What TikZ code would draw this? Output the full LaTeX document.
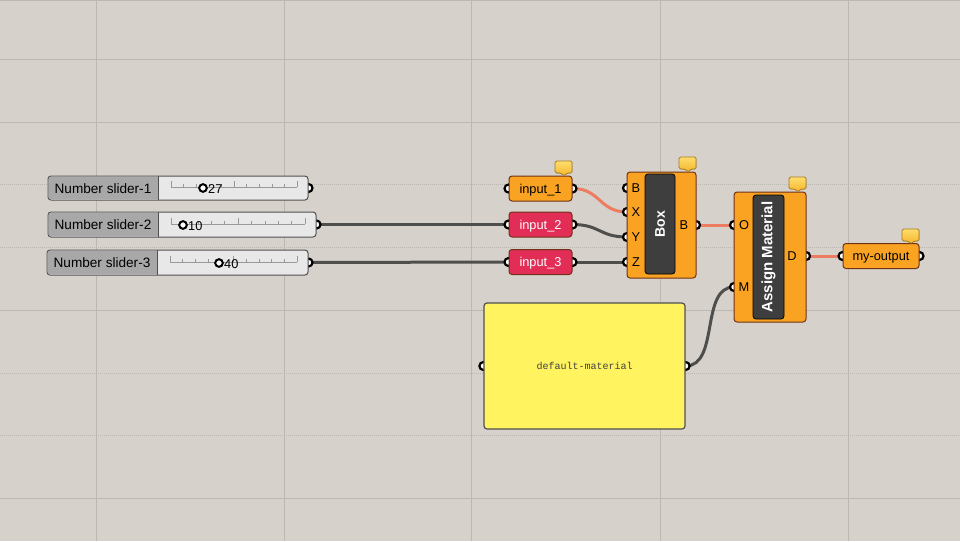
\documentclass[tikz,border=0pt]{standalone}
\usepackage{fontspec}
\setmainfont{Liberation Sans}
\newfontfamily\panelfont{Liberation Mono}
\pgfdeclarelayer{background}
\pgfsetlayers{background,main}
\usetikzlibrary{calc}
\definecolor{canvas}{RGB}{214,210,203}
\definecolor{gridline}{RGB}{188,184,177}
\definecolor{ghorange}{RGB}{250,163,34}
\definecolor{ghbrown}{RGB}{112,50,22}
\definecolor{ghpink}{RGB}{226,46,86}
\definecolor{ghdark}{RGB}{62,62,62}
\definecolor{wireoff}{RGB}{78,78,76}
\definecolor{wireon}{RGB}{238,124,96}
\definecolor{slidergray}{RGB}{168,168,168}
\definecolor{sliderlight}{RGB}{232,232,232}
\definecolor{sliderbord}{RGB}{80,80,80}
\definecolor{panelyellow}{RGB}{255,243,96}
\definecolor{tagtop}{RGB}{255,222,110}
\definecolor{tagbot}{RGB}{244,180,40}
\definecolor{tagbord}{RGB}{170,120,30}

\tikzset{
  sliderbody/.style={draw=sliderbord, line width=1pt, fill=sliderlight, rounded corners=3pt, inner sep=0pt},
  sliderlbl/.style={inner sep=0pt, font=\fontsize{13.6}{15}\selectfont},
  sliderval/.style={inner sep=0pt, anchor=west, font=\fontsize{12.8}{15}\selectfont},
  tickline/.style={draw=gray!80, line width=0.6pt},
  knob/.style={fill=white, draw=black, line width=2pt},
  comp/.style={draw=ghbrown, line width=1pt, fill=ghorange, rounded corners=3pt, inner sep=0pt},
  param/.style={comp, minimum width=63pt, minimum height=25pt, text height=11pt, text depth=2pt,
                font=\fontsize{12.8}{15}\selectfont},
  redparam/.style={param, fill=ghpink, text=white},
  core/.style={fill=ghdark, draw=black, line width=0.8pt, rounded corners=3pt, inner sep=0pt, text=white},
  portlbl/.style={inner sep=0pt, font=\fontsize{12.8}{15}\selectfont},
  port/.style={fill=white, draw=black, line width=2.2pt},
  wire/.style={draw=wireoff, line width=3pt},
  wiresel/.style={draw=wireon, line width=3pt},
  tagnote/.style={draw=tagbord, line width=0.7pt, top color=tagtop, bottom color=tagbot, rounded corners=1.5pt},
}

\begin{document}
\begin{tikzpicture}[x=1pt,y=-1pt]
        \useasboundingbox (0,0) rectangle (960,541);
        \begin{pgfonlayer}{background}
        \fill[canvas] (0,0) rectangle (960,541);
        %Canvas grid
        \foreach \gx in {96,284,471,660,848}
          \draw[gridline, line width=0.8pt] (\gx,0) -- (\gx,541);
        \foreach \gy in {59,122,310,498}
          \draw[gridline, line width=0.9pt] (0,\gy) -- (960,\gy);
        \foreach \gy in {184,247,373,435}
          \draw[gridline, line width=0.9pt, dash pattern=on 1pt off 1pt] (0,\gy) -- (960,\gy);
        \draw[gridline, line width=1pt] (0,0.5) -- (960,0.5);
        \end{pgfonlayer}
        %Number slider 1
        \node[sliderbody, minimum width=260, minimum height=24] (s1) at (178,188) {};
        \fill[slidergray, rounded corners=2.5pt] (158,176.6) -- (48.6,176.6) -- (48.6,199.4) -- (158,199.4);
        \draw[sliderbord, line width=1pt] (158,176) -- (158,200);
        \node[sliderlbl] (s1lab) at (103,188.5) {Number slider-1};
        \draw[tickline] (171,187) -- (297,187);
        \foreach \i in {0,...,10}
          \draw[tickline] ({171+12.6*\i},187) -- ({171+12.6*\i},{\i==0||\i==5||\i==10 ? 181 : 184});
        \filldraw[knob] (203,188) circle (3.8);
        \node[sliderval] (s1val) at (208,189) {27};
        %Number slider 2
        \node[sliderbody, minimum width=268, minimum height=25] (s2) at (182,224.5) {};
        \fill[slidergray, rounded corners=2.5pt] (158,212.6) -- (48.6,212.6) -- (48.6,236.4) -- (158,236.4);
        \draw[sliderbord, line width=1pt] (158,212) -- (158,237);
        \node[sliderlbl] (s2lab) at (103,225) {Number slider-2};
        \draw[tickline] (171,224) -- (305,224);
        \foreach \i in {0,...,10}
          \draw[tickline] ({171+13.4*\i},224) -- ({171+13.4*\i},{\i==0||\i==5||\i==10 ? 218 : 221});
        \filldraw[knob] (183,225) circle (3.8);
        \node[sliderval] (s2val) at (188,226) {10};
        %Number slider 3
        \node[sliderbody, minimum width=261, minimum height=25] (s3) at (177.5,262.5) {};
        \fill[slidergray, rounded corners=2.5pt] (157,250.6) -- (47.6,250.6) -- (47.6,274.4) -- (157,274.4);
        \draw[sliderbord, line width=1pt] (157,250) -- (157,275);
        \node[sliderlbl] (s3lab) at (102,263) {Number slider-3};
        \draw[tickline] (170,262) -- (297,262);
        \foreach \i in {0,...,10}
          \draw[tickline] ({170+12.7*\i},262) -- ({170+12.7*\i},{\i==0||\i==5||\i==10 ? 256 : 259});
        \filldraw[knob] (219,263) circle (3.8);
        \node[sliderval] (s3val) at (224,264) {40};
        %Parameters
        \node[param] (in1) at (540.5,188.5) {input\_1};
        \node[redparam] (in2) at (540.5,224.5) {input\_2};
        \node[redparam] (in3) at (540.5,262) {input\_3};
        \filldraw[tagnote] (555,161) -- (572,161) -- (572,173) -- (567,173) -- (564,176) -- (561,173) -- (555,173) -- cycle;
        %Box component
        \node[comp, minimum width=69, minimum height=106] (box) at (661.5,225) {};
        \node[core, rotate=90, minimum width=100, minimum height=30,
              font=\bfseries\fontsize{14}{16}\selectfont] (boxcore) at (660,224) {Box};
        \node[portlbl] (lblB) at (636,188.5) {B};
        \node[portlbl] (lblX) at (636,212.5) {X};
        \node[portlbl] (lblY) at (636,237.5) {Y};
        \node[portlbl] (lblZ) at (636,262.5) {Z};
        \node[portlbl] (lblBo) at (684,225.5) {B};
        \coordinate (boxB) at (627,188);
        \coordinate (boxX) at (627,212);
        \coordinate (boxY) at (627,237);
        \coordinate (boxZ) at (627,262);
        \coordinate (boxout) at (696,225);
        \filldraw[tagnote] (679,157) -- (696,157) -- (696,169) -- (691,169) -- (688,172) -- (685,169) -- (679,169) -- cycle;
        %Assign Material component
        \node[comp, minimum width=72, minimum height=130] (am) at (770,257) {};
        \node[core, rotate=90, minimum width=124, minimum height=31,
              font=\bfseries\fontsize{15}{17}\selectfont] (amcore) at (768.5,257) {Assign Material};
        \node[portlbl] (lblO) at (744,225.5) {O};
        \node[portlbl] (lblM) at (744,287.5) {M};
        \node[portlbl] (lblD) at (792,256.5) {D};
        \coordinate (amO) at (734,225);
        \coordinate (amM) at (734,287);
        \coordinate (amD) at (806,256);
        \filldraw[tagnote] (789,177) -- (806,177) -- (806,189) -- (801,189) -- (798,192) -- (795,189) -- (789,189) -- cycle;
        %Output
        \node[param, minimum width=76] (out) at (881,256) {my-output};
        \filldraw[tagnote] (902,229) -- (919,229) -- (919,241) -- (914,241) -- (911,244) -- (908,241) -- (902,241) -- cycle;
        %Panel
        \node[draw=sliderbord, line width=1.2pt, fill=panelyellow, rounded corners=3pt,
              minimum width=201, minimum height=126, text=black!75,
              font=\panelfont\fontsize{10}{12}\selectfont] (mat) at (584.5,366) {default-material};
        \begin{pgfonlayer}{background}
        % Wires
        \draw[wire] (s2.east) -- (in2.west);
        \draw[wire] (s3.east) -- (in3.west);
        \draw[wiresel] (in1.east) .. controls +(28,0) and +(-28,0) .. (boxX);
        \draw[wire] (in2.east) .. controls +(28,0) and +(-28,0) .. (boxY);
        \draw[wire] (in3.east) .. controls +(20,0) and +(-20,0) .. (boxZ);
        \draw[wiresel] (boxout) -- (amO);
        \draw[wiresel] (amD) -- (out.west);
        \draw[wire] (mat.east) .. controls +(34,0) and +(-34,0) .. (amM);
        % Ports
        \filldraw[port] (s1.east) circle (4);
        \filldraw[port] (s2.east) circle (4);
        \filldraw[port] (s3.east) circle (4);
        \filldraw[port] (in1.west) circle (4);
        \filldraw[port] (in1.east) circle (4);
        \filldraw[port] (in2.west) circle (4);
        \filldraw[port] (in2.east) circle (4);
        \filldraw[port] (in3.west) circle (4);
        \filldraw[port] (in3.east) circle (4);
        \filldraw[port] (boxB) circle (4);
        \filldraw[port] (boxX) circle (4);
        \filldraw[port] (boxY) circle (4);
        \filldraw[port] (boxZ) circle (4);
        \filldraw[port] (boxout) circle (4);
        \filldraw[port] (amO) circle (4);
        \filldraw[port] (amM) circle (4);
        \filldraw[port] (amD) circle (4);
        \filldraw[port] (out.west) circle (4);
        \filldraw[port] (out.east) circle (4);
        \filldraw[port] (mat.west) circle (4);
        \filldraw[port] (mat.east) circle (4);
        \end{pgfonlayer}
      \end{tikzpicture}
\end{document}
